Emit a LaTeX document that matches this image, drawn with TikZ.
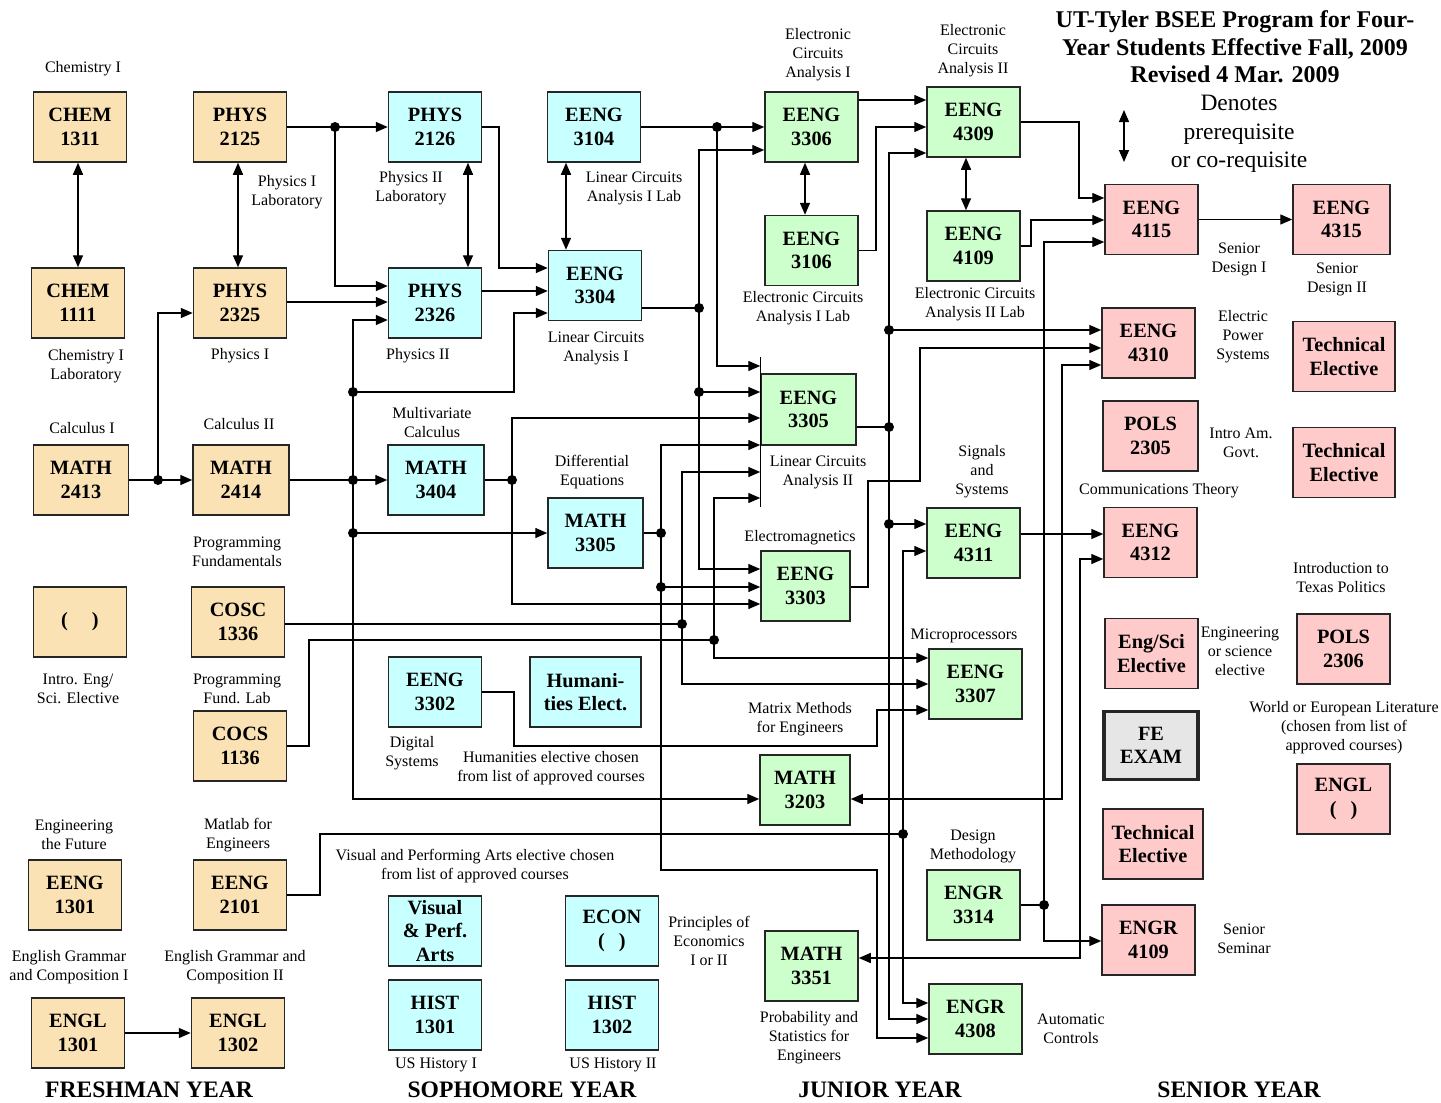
\documentclass[tikz,border=0pt]{standalone}
\usepackage{fontspec}
\setmainfont{Liberation Serif}
\usetikzlibrary{arrows.meta}
\definecolor{tanc}{RGB}{250,226,180}
\definecolor{cyanc}{RGB}{200,255,255}
\definecolor{greenc}{RGB}{204,255,204}
\definecolor{pinkc}{RGB}{255,202,202}
\definecolor{grayc}{RGB}{230,230,230}
\begin{document}
\begin{tikzpicture}[x=1pt,y=-1pt,
  crs/.style={draw=black!85,line width=1.5pt,minimum width=93pt,minimum height=70pt,inner sep=0pt,align=center,font=\fontsize{20.3}{23.5}\selectfont\bfseries},
  fr/.style={crs,fill=tanc},
  so/.style={crs,fill=cyanc},
  ju/.style={crs,fill=greenc},
  se/.style={crs,fill=pinkc},
  lbl/.style={align=center,inner sep=0pt,font=\fontsize{16}{19}\selectfont},
  yr/.style={inner sep=0pt,font=\fontsize{23.6}{27}\selectfont\bfseries},
  ln/.style={line width=1.4pt},
  wire/.style={line width=1.4pt,-{Triangle[length=12pt,width=10pt]}},
  dbl/.style={line width=1.4pt,{Triangle[length=12pt,width=10pt]}-{Triangle[length=12pt,width=10pt]}},
  jd/.style={fill=black}
]
\useasboundingbox (0,0) rectangle (1441,1103);

% ---------- Freshman ----------
\node[fr] (chemA) at (80,127) {CHEM\\1311};
\node[fr] (chemB) at (78,303) {CHEM\\1111};
\node[fr] (physA) at (240,127) {PHYS\\2125};
\node[fr] (physB) at (240,303) {PHYS\\2325};
\node[fr,minimum width=95pt] (mathA) at (81,480) {MATH\\2413};
\node[fr,minimum width=96pt] (mathB) at (241,480) {MATH\\2414};
\node[fr] (intro) at (80,622) {(\hspace{24pt})};
\node[fr] (cosc) at (238,622) {COSC\\1336};
\node[fr] (cocs) at (240,746) {COCS\\1136};
\node[fr] (eengA) at (75,895) {EENG\\1301};
\node[fr] (eengB) at (240,895) {EENG\\2101};
\node[fr] (englA) at (78,1033) {ENGL\\1301};
\node[fr] (englB) at (238,1033) {ENGL\\1302};

% ---------- Sophomore ----------
\node[so] (phys2126) at (435,127) {PHYS\\2126};
\node[so] (phys2326) at (435,303) {PHYS\\2326};
\node[so] (e3104) at (594,127) {EENG\\3104};
\node[so] (e3304) at (595,285.5) {EENG\\3304};
\node[so,minimum width=96pt] (m3404) at (436,480) {MATH\\3404};
\node[so,minimum width=95pt] (m3305) at (595.5,533) {MATH\\3305};
\node[so] (e3302) at (435,692) {EENG\\3302};
\node[so,minimum width=111pt] (hum) at (585.5,692) {Humani-\\ties Elect.};
\node[so] (vis) at (435,931) {Visual\\\& Perf.\\Arts};
\node[so] (econ) at (612,931) {ECON\\(\hspace{14pt})};
\node[so] (hist1) at (435,1015) {HIST\\1301};
\node[so] (hist2) at (612,1015) {HIST\\1302};

% ---------- Junior ----------
\node[ju] (e3306) at (811.5,127) {EENG\\3306};
\node[ju] (e3106) at (811.5,250.5) {EENG\\3106};
\node[ju] (e4309) at (973.5,122) {EENG\\4309};
\node[ju] (e4109) at (973.5,246) {EENG\\4109};
\node[ju,minimum width=95pt,minimum height=71pt] (e3305) at (808.5,409.5) {EENG\\3305};
\node[ju,minimum width=89pt] (e3303) at (805.5,586) {EENG\\3303};
\node[ju] (e4311) at (973.5,543) {EENG\\4311};
\node[ju] (e3307) at (975.5,684) {EENG\\3307};
\node[ju,minimum width=90pt] (m3203) at (805,790) {MATH\\3203};
\node[ju] (engr3314) at (973.5,905) {ENGR\\3314};
\node[ju] (m3351) at (811.5,966) {MATH\\3351};
\node[ju] (engr4308) at (975.5,1019) {ENGR\\4308};

% ---------- Senior ----------
\node[se] (e4115) at (1151.5,219.5) {EENG\\4115};
\node[se,minimum width=97pt] (e4315) at (1341.5,219.5) {EENG\\4315};
\node[se] (e4310) at (1148.5,343) {EENG\\4310};
\node[se,minimum width=102pt] (te1) at (1344,356.5) {Technical\\Elective};
\node[se,minimum width=95pt] (pols2305) at (1150.5,436) {POLS\\2305};
\node[se,minimum width=102pt] (te2) at (1344,462.5) {Technical\\Elective};
\node[se] (e4312) at (1150.5,542.5) {EENG\\4312};
\node[se] (engsci) at (1151.5,653.5) {Eng/Sci\\Elective};
\node[se] (pols2306) at (1343.5,649) {POLS\\2306};
\node[crs,fill=grayc,line width=3.5pt,minimum width=94pt,minimum height=68pt] (fe) at (1151,745.5) {FE\\EXAM};
\node[se] (engl) at (1343.5,799) {ENGL\\(\hspace{14pt})};
\node[se,minimum width=100pt] (te3) at (1153,844) {Technical\\Elective};
\node[se] (engr4109) at (1148.5,940) {ENGR\\4109};

% ---------- Labels ----------
\node[lbl] at (83,69) {Chemistry I};
\node[lbl] at (287,192) {Physics I\\Laboratory};
\node[lbl] at (411,188) {Physics II\\Laboratory};
\node[lbl] at (634,188) {Linear Circuits\\Analysis I Lab};
\node[lbl] at (818,55) {Electronic\\Circuits\\Analysis I};
\node[lbl] at (973,51) {Electronic\\Circuits\\Analysis II};
\node[align=center,inner sep=0pt,font=\fontsize{24}{27.5}\selectfont\bfseries] at (1235,47) {UT-Tyler BSEE Program for Four-\\Year Students Effective Fall, 2009\\Revised 4 Mar. 2009};
\node[align=center,inner sep=0pt,font=\fontsize{23.5}{28.5}\selectfont] at (1239,134) {Denotes\\prerequisite\\or co-requisite};
\node[lbl] at (86,366) {Chemistry I\\Laboratory};
\node[lbl] at (240,356) {Physics I};
\node[lbl] at (418,356) {Physics II};
\node[lbl] at (596,348) {Linear Circuits\\Analysis I};
\node[lbl] at (803,308) {Electronic Circuits\\Analysis I Lab};
\node[lbl] at (975,304) {Electronic Circuits\\Analysis II Lab};
\node[lbl] at (1239,259) {Senior\\Design I};
\node[lbl] at (1337,279) {Senior\\Design II};
\node[lbl] at (1243,337) {Electric\\Power\\Systems};
\node[lbl] at (1241,443) {Intro Am.\\Govt.};
\node[lbl] at (1159,491) {Communications Theory};
\node[lbl] at (82,428) {Calculus I};
\node[lbl] at (239,424) {Calculus II};
\node[lbl] at (432,423) {Multivariate\\Calculus};
\node[lbl] at (592,472) {Differential\\Equations};
\node[lbl] at (818,472) {Linear Circuits\\Analysis II};
\node[lbl] at (982,472) {Signals\\and\\Systems};
\node[lbl] at (237,552) {Programming\\Fundamentals};
\node[lbl] at (800,538) {Electromagnetics};
\node[lbl] at (1341,578) {Introduction to\\Texas Politics};
\node[lbl] at (78,689) {Intro. Eng/\\Sci. Elective};
\node[lbl] at (237,689) {Programming\\Fund. Lab};
\node[lbl] at (964,636) {Microprocessors};
\node[lbl] at (1240,651) {Engineering\\or science\\elective};
\node[lbl] at (800,719) {Matrix Methods\\for Engineers};
\node[lbl] at (1344,728) {World or European Literature\\(chosen from list of\\approved courses)};
\node[lbl] at (412,753) {Digital\\Systems};
\node[lbl] at (551,768) {Humanities elective chosen\\from list of approved courses};
\node[lbl] at (74,835) {Engineering\\the Future};
\node[lbl] at (238,835) {Matlab for\\Engineers};
\node[lbl] at (973,846) {Design\\Methodology};
\node[lbl] at (475,866) {Visual and Performing Arts elective chosen\\from list of approved courses};
\node[lbl] at (709,941) {Principles of\\Economics\\I or II};
\node[lbl] at (1244,939) {Senior\\Seminar};
\node[lbl] at (69,967) {English Grammar\\and Composition I};
\node[lbl] at (235,967) {English Grammar and\\Composition II};
\node[lbl] at (809,1038) {Probability and\\Statistics for\\Engineers};
\node[lbl] at (1071,1029) {Automatic\\Controls};
\node[lbl] at (436,1065) {US History I};
\node[lbl] at (613,1065) {US History II};
\node[yr] at (149,1090) {FRESHMAN YEAR};
\node[yr] at (522,1090) {SOPHOMORE YEAR};
\node[yr] at (880,1090) {JUNIOR YEAR};
\node[yr] at (1239,1090) {SENIOR YEAR};

% ---------- legend arrow ----------
\coordinate (legA) at (1124,110);
\coordinate (legB) at (1124,162);
\draw[dbl] (legA) -- (legB);

% ---------- junction coordinates ----------
\coordinate (j158) at (158,480);
\coordinate (j335) at (335,127);
\coordinate (j353a) at (353,392);
\coordinate (j353b) at (353,480);
\coordinate (j353c) at (353,533);
\coordinate (j512) at (512,480);
\coordinate (j661a) at (661,533);
\coordinate (j661b) at (661,587);
\coordinate (j682) at (682,624);
\coordinate (j714) at (714,640);
\coordinate (j699a) at (699,308);
\coordinate (j699b) at (699,392);
\coordinate (j717) at (717,127);
\coordinate (j889a) at (889,330);
\coordinate (j889b) at (889,427);
\coordinate (j889c) at (889,524);
\coordinate (j903) at (903,834);
\coordinate (j1044) at (1044,905);

% bar of EENG 3305
\draw[ln] (e3305.west |- 0,357) -- (e3305.west |- 0,507);

% ---------- Freshman connectors ----------
\draw[dbl] (chemA.south -| 78,0) -- (chemB.north -| 78,0);
\draw[dbl] (physA.south -| 238,0) -- (physB.north -| 238,0);
\draw[wire] (mathA.east) -- (mathB.west);
\draw[wire] (j158) -- (158,313) -- (physB.west |- 0,313);
\draw[wire] (physA.east) -- (phys2126.west);
\draw[wire] (j335) -- (335,286) -- (phys2326.west |- 0,286);
\draw[wire] (physB.east |- 0,302) -- (phys2326.west |- 0,302);
\draw[wire] (mathB.east) -- (m3404.west);
\draw[wire] (j353b) -- (353,320) -- (phys2326.west |- 0,320);
\draw[wire] (j353b) -- (353,799) -- (m3203.west |- 0,799);
\draw[wire] (j353a) -- (514,392) -- (514,313) -- (e3304.west |- 0,313);
\draw[wire] (j353c) -- (m3305.west);
\draw[wire] (englA.east) -- (englB.west);

% ---------- Sophomore connectors ----------
\draw[wire] (phys2126.east) -- (499,127) -- (499,268) -- (e3304.west |- 0,268);
\draw[wire] (phys2326.east |- 0,291) -- (e3304.west |- 0,291);
\draw[dbl] (phys2126.south -| 468,0) -- (phys2326.north -| 468,0);
\draw[dbl] (e3104.south -| 566,0) -- (e3304.north -| 566,0);
\draw[wire] (e3104.east) -- (e3306.west);
\draw[wire] (j717) -- (717,366) -- (e3305.west |- 0,366);
\draw[ln] (e3304.east |- 0,308) -- (j699a);
\draw[wire] (j699a) -- (699,150) -- (e3306.west |- 0,150);
\draw[wire] (j699a) -- (699,569) -- (e3303.west |- 0,569);
\draw[wire] (j699b) -- (e3305.west |- 0,392);
\draw[ln] (m3404.east) -- (j512);
\draw[wire] (j512) -- (512,418) -- (e3305.west |- 0,418);
\draw[wire] (j512) -- (512,604) -- (e3303.west |- 0,604);
\draw[ln] (m3305.east) -- (j661a);
\draw[wire] (j661a) -- (661,445) -- (e3305.west |- 0,445);
\draw[wire] (j661b) -- (e3303.west |- 0,587);
\draw[wire] (j661a) -- (661,870) -- (877,870) -- (877,1038) -- (engr4308.west |- 0,1038);
\draw[ln] (cosc.east |- 0,624) -- (j682);
\draw[wire] (j682) -- (682,472) -- (e3305.west |- 0,472);
\draw[wire] (j682) -- (682,684) -- (e3307.west |- 0,684);
\draw[ln] (cocs.east) -- (309,746) -- (309,640) -- (j714);
\draw[wire] (j714) -- (714,498) -- (e3305.west |- 0,498);
\draw[wire] (j714) -- (714,658) -- (e3307.west |- 0,658);
\draw[wire] (e3302.east) -- (514,692) -- (514,746) -- (877,746) -- (877,710) -- (e3307.west |- 0,710);
\draw[ln] (eengB.east) -- (320,895) -- (320,834) -- (j903);
\draw[wire] (j903) -- (903,551) -- (e4311.west |- 0,551);
\draw[wire] (j903) -- (903,1003) -- (engr4308.west |- 0,1003);

% ---------- Junior connectors ----------
\draw[dbl] (e3306.south -| 805,0) -- (e3106.north -| 805,0);
\draw[dbl] (e4309.south -| 966,0) -- (e4109.north -| 966,0);
\draw[wire] (e3306.east |- 0,100) -- (e4309.west |- 0,100);
\draw[wire] (e3106.east) -- (876,250.5) -- (876,127) -- (e4309.west |- 0,127);
\draw[ln] (e3305.east |- 0,427) -- (j889b);
\draw[wire] (j889b) -- (889,153) -- (e4309.west |- 0,153);
\draw[wire] (j889a) -- (e4310.west |- 0,330);
\draw[wire] (j889c) -- (e4311.west |- 0,524);
\draw[wire] (j889b) -- (889,1019) -- (engr4308.west |- 0,1019);
\draw[wire] (e3303.east |- 0,587) -- (868,587) -- (868,481) -- (920,481) -- (920,348) -- (e4310.west |- 0,348);
\draw[dbl] (m3203.east |- 0,799) -- (1062,799) -- (1062,365) -- (e4310.west |- 0,365);
\draw[dbl] (m3351.east |- 0,958) -- (1080,958) -- (1080,559) -- (e4312.west |- 0,559);
\draw[wire] (e4309.east) -- (1079,122) -- (1079,198) -- (e4115.west |- 0,198);
\draw[wire] (e4109.east) -- (1031,246) -- (1031,220) -- (e4115.west |- 0,220);
\draw[ln] (engr3314.east) -- (j1044);
\draw[wire] (j1044) -- (1044,242) -- (e4115.west |- 0,242);
\draw[wire] (j1044) -- (1044,941) -- (engr4109.west |- 0,941);
\draw[wire] (e4311.east |- 0,534) -- (e4312.west |- 0,534);
\draw[wire] (e4115.east) -- (e4315.west);

% ---------- junction dots ----------
\foreach \j in {j158,j335,j353a,j353b,j353c,j512,j661a,j661b,j682,j714,j699a,j699b,j717,j889a,j889b,j889c,j903,j1044}
  \fill[jd] (\j) circle (5pt);
\end{tikzpicture}
\end{document}
